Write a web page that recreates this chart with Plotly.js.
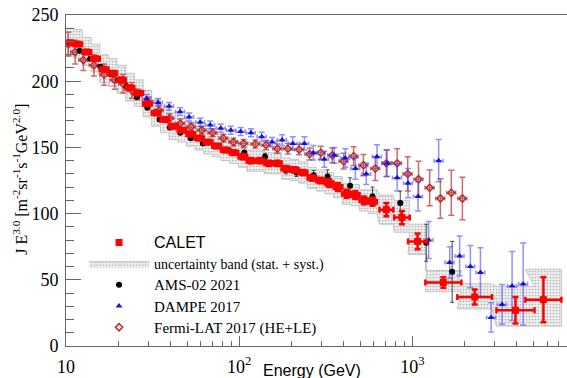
<!DOCTYPE html>
<html>
<head>
<meta charset="utf-8">
<script src="https://cdn.plot.ly/plotly-3.0.1.min.js"></script>
<style>html,body{margin:0;padding:0;background:#fff;}#chart{width:567px;height:378px;}</style>
</head>
<body>
<div id="chart"></div>
<script>
// CALET (energy in GeV, E^3 flux, stat. error, half bin width in dex, uncertainty band)
const calE    = [10.5,11.7,13.2,14.8,16.6,18.6,20.9,23.4,26.3,29.5,33.1,37.2,41.7,46.8,52.5,58.9,66.1,74.1,83.2,93.3,105,117,132,148,166,186,209,234,263,295,331,372,417,468,525,589,708,871,1072,1510,2290,3940,5710];
const calFlux = [229,228,222,217,209,206,201,195,191,183,176,171,166,163,160,157,154,151,148,146,143,140,140,138,138,134,133,131,127,125,123,120,115,114,110,109,103,97,79,48,37,27,35];
const calErr  = [1.5,1.5,1.5,1.5,1.5,1.5,1.5,1.5,1.5,1.5,1.5,1.5,1.5,1.5,1.5,1.5,1.5,1.5,1.5,1.5,2,2,2,2,2,2,2,2,2,2,3,3,3,3,3,3,5,5,6,4,5.6,10,17];
const calHW   = [0.025,0.025,0.025,0.025,0.025,0.025,0.025,0.025,0.025,0.025,0.025,0.025,0.025,0.025,0.025,0.025,0.025,0.025,0.025,0.025,0.025,0.025,0.025,0.025,0.025,0.025,0.025,0.025,0.025,0.025,0.025,0.025,0.025,0.025,0.025,0.025,0.04,0.045,0.055,0.104,0.1,0.11,0.104];
const bandLo  = [219,218,212,207,199,196,191,185,181,173,166,161,156,154,151,148,145,143,140,138,135,132,132,130,130,126,125,123,119,117,115,112,107,106,102,100,92,86,69,41,28,15,15];
const bandHi  = [240,239,233,228,220,217,212,206,201,193,186,181,176,172,169,166,163,160,157,154,151,148,148,146,146,142,141,139,135,133,131,128,123,122,118,118,114,110,92,57,47,45,58];

// AMS-02 2021
const amsE    = [10.5,12.0,13.8,15.8,18.2,20.0,22.4,25.7,29.5,34.7,39.8,45.7,52.5,61.7,72.4,87.1,107,141,186,214,269,324,437,589,851,1202,1698];
const amsFlux = [229,223,217,211,205,201,196,188,180,171,165,161,157,153,151,148,146,143,133,131,129,128,121,113,108,78,56];
const amsErr  = [1,1,1,1,1,1,1,1,1,1,1.2,1.2,1.3,1.5,1.5,1.8,2,2.5,3,3,3.5,5,6,7,9,14,23];

// DAMPE 2017
const dmpE    = [29.2,34.0,39.4,45.6,51.4,59.6,68.0,78.3,89.5,102,117,135,155,177,204,238,268,310,354,410,469,542,625,714,817,944,1079,1242,1419,1644,1875,2163,2472,2851,3296,3767,4365];
const dmpFlux = [187,184,181,177,173,169,167,164.5,163,162,161,158,154,155.5,153,153,146,141,144,142,134,130,143,138,127,123,113,80,140,63,68,60,55.6,21.6,31.4,45.3,46.8];
const dmpErr  = [3,3,3,3,3,3,3,3,3,3,3,3.5,3.5,4,5,5,5.5,6,6,7,8,8,9,10,10,11,11,14,16,12,15,16,18.6,11,15,26,31];

// Fermi-LAT 2017 (HE+LE)
const fermiE    = [10.3,11.3,12.6,14.5,16.6,19.1,21.4,24.0,25.8,29.8,34.4,39.6,45.7,52.7,60.8,70.2,81.1,92.7,106,124,143,166,191,222,255,296,345,401,458,522,611,708,817,940,1086,1259,1452,1679,1945];
const fermiFlux = [228,222,216,212,205,201,198,193,190,184,178,172,168,165.5,163,161,157,154,153,152.5,151.7,149,149,148.4,145,145.9,144,139.6,143.4,136.6,134,138,138,130,126,119.5,111.4,115.7,111.4];
const fermiErr  = [9,9,8,8,8,7,7,6,4,4,4,3.5,3.5,3,3,3,3,3,3,3,3.5,3.5,4,4,4.5,5,5.5,6,7,8,9,10,11,13,13.5,13.5,15,17,16];

// Axis tick labels
const xTickVals = [10, 100, 1000];
const xTickText = ['10', '10<sup>2</sup>', '10<sup>3</sup>'];

// ---------- derived geometry (from the data above) ----------
const calXp = calE.map((e, i) => e * (Math.pow(10, calHW[i]) - 1));
const calXm = calE.map((e, i) => e * (1 - Math.pow(10, -calHW[i])));
const bandX = [], bandY = [];
for (let i = 0; i < calE.length; i++) {
  bandX.push(calE[i] * Math.pow(10, -calHW[i]), calE[i] * Math.pow(10, calHW[i]));
  bandY.push(bandHi[i], bandHi[i]);
}
for (let i = calE.length - 1; i >= 0; i--) {
  bandX.push(calE[i] * Math.pow(10, calHW[i]), calE[i] * Math.pow(10, -calHW[i]));
  bandY.push(bandLo[i], bandLo[i]);
}
const minorX = [];
[10, 100, 1000].forEach(d => { for (let k = 2; k <= 9; k++) minorX.push(k * d); });

const serif = 'Liberation Serif, Times New Roman, serif';
const sans = 'Liberation Sans, Arial, sans-serif';

const traces = [
  {
    name: 'uncertainty band (stat. + syst.)',
    x: bandX, y: bandY, type: 'scatter', mode: 'lines', fill: 'toself',
    line: {color: '#c4c4c4', width: 1},
    fillcolor: '#ededed',
    fillpattern: {shape: '.', fgcolor: '#b4b4b4', bgcolor: '#efefef', size: 3, solidity: 0.25},
    legendrank: 2, hoverinfo: 'skip'
  },
  {
    name: '<span style="font-size:15px">Fermi-LAT 2017 (HE+LE)</span>',
    x: fermiE, y: fermiFlux, type: 'scatter', mode: 'markers',
    marker: {symbol: 'diamond-open', size: 5.5, color: '#b52a2a', line: {width: 1.5, color: '#b52a2a'}},
    error_y: {type: 'data', array: fermiErr, color: 'rgba(181,60,60,0.75)', thickness: 1.5, width: 3},
    error_x: {type: 'percent', value: 6, color: 'rgba(181,60,60,0.75)', thickness: 1.5, width: 2},
    legendrank: 5
  },
  {
    name: '<span style="font-size:15px">DAMPE 2017</span>',
    x: dmpE, y: dmpFlux, type: 'scatter', mode: 'markers',
    marker: {symbol: 'triangle-up', size: 6, color: '#1010e0'},
    error_y: {type: 'data', array: dmpErr, color: 'rgba(70,70,255,0.6)', thickness: 1.5, width: 3},
    error_x: {type: 'percent', value: 6, color: 'rgba(70,70,255,0.6)', thickness: 1.5, width: 2},
    legendrank: 4
  },
  {
    name: '<span style="font-size:15px">AMS-02 2021</span>',
    x: amsE, y: amsFlux, type: 'scatter', mode: 'markers',
    marker: {symbol: 'circle', size: 6, color: '#000'},
    error_y: {type: 'data', array: amsErr, color: '#444', thickness: 1, width: 2},
    legendrank: 3
  },
  {
    name: '<span style="font-family:\'Liberation Sans\',Arial;font-size:16px">CALET</span>',
    x: calE, y: calFlux, type: 'scatter', mode: 'markers',
    marker: {symbol: 'square', size: 7, color: '#ff0000'},
    error_y: {type: 'data', array: calErr, color: '#ff0000', thickness: 2.5, width: 3},
    error_x: {type: 'data', array: calXp, arrayminus: calXm, color: '#ff0000', thickness: 2.5, width: 3},
    legendrank: 1
  }
];

const layout = {
  width: 567, height: 378,
  margin: {l: 66, r: 0, t: 15, b: 32},
  paper_bgcolor: '#fff', plot_bgcolor: '#fff',
  showlegend: true,
  legend: {
    x: 0.036, y: 0.36, xanchor: 'left', yanchor: 'top',
    bgcolor: 'rgba(0,0,0,0)', borderwidth: 0,
    font: {family: serif, size: 14, color: '#000'},
    itemwidth: 60, tracegroupgap: 0
  },
  xaxis: {
    type: 'log', range: [1, 3.893],
    showline: true, linecolor: '#666', linewidth: 1, mirror: true,
    showgrid: false, zeroline: false,
    ticks: 'inside', ticklen: 10, tickcolor: '#666', tickwidth: 1,
    tickmode: 'array', tickvals: xTickVals, ticktext: xTickText,
    tickfont: {family: serif, size: 18, color: '#000'},
    ticklabelstandoff: 4,
    minor: {ticks: 'inside', ticklen: 5, tickcolor: '#666', tickwidth: 1, tickvals: minorX, showgrid: false}
  },
  yaxis: {
    range: [0, 250],
    showline: true, linecolor: '#666', linewidth: 1, mirror: false,
    showgrid: false, zeroline: false,
    ticks: 'inside', ticklen: 15, tickcolor: '#666', tickwidth: 1,
    tickmode: 'linear', tick0: 0, dtick: 50,
    tickfont: {family: serif, size: 18, color: '#000'},
    ticklabelstandoff: 3,
    minor: {ticks: 'inside', ticklen: 8, tickcolor: '#666', tickwidth: 1, dtick: 10, showgrid: false}
  },
  annotations: [
    {
      text: 'J E<sup>3.0</sup> [m<sup>-2</sup>sr<sup>-1</sup>s<sup>-1</sup>GeV<sup>2.0</sup>]',
      xref: 'paper', yref: 'paper', x: -0.092, y: 0.505, xanchor: 'center', yanchor: 'middle',
      textangle: -90, showarrow: false,
      font: {family: serif, size: 16, color: '#000'}
    },
    {
      text: 'Energy (GeV)',
      xref: 'paper', yref: 'paper', x: 0.491, y: -0.0755, xanchor: 'center', yanchor: 'middle',
      showarrow: false,
      font: {family: sans, size: 16, color: '#000'}
    }
  ]
};

Plotly.newPlot('chart', traces, layout, {displayModeBar: false, staticPlot: true});
</script>
</body>
</html>
